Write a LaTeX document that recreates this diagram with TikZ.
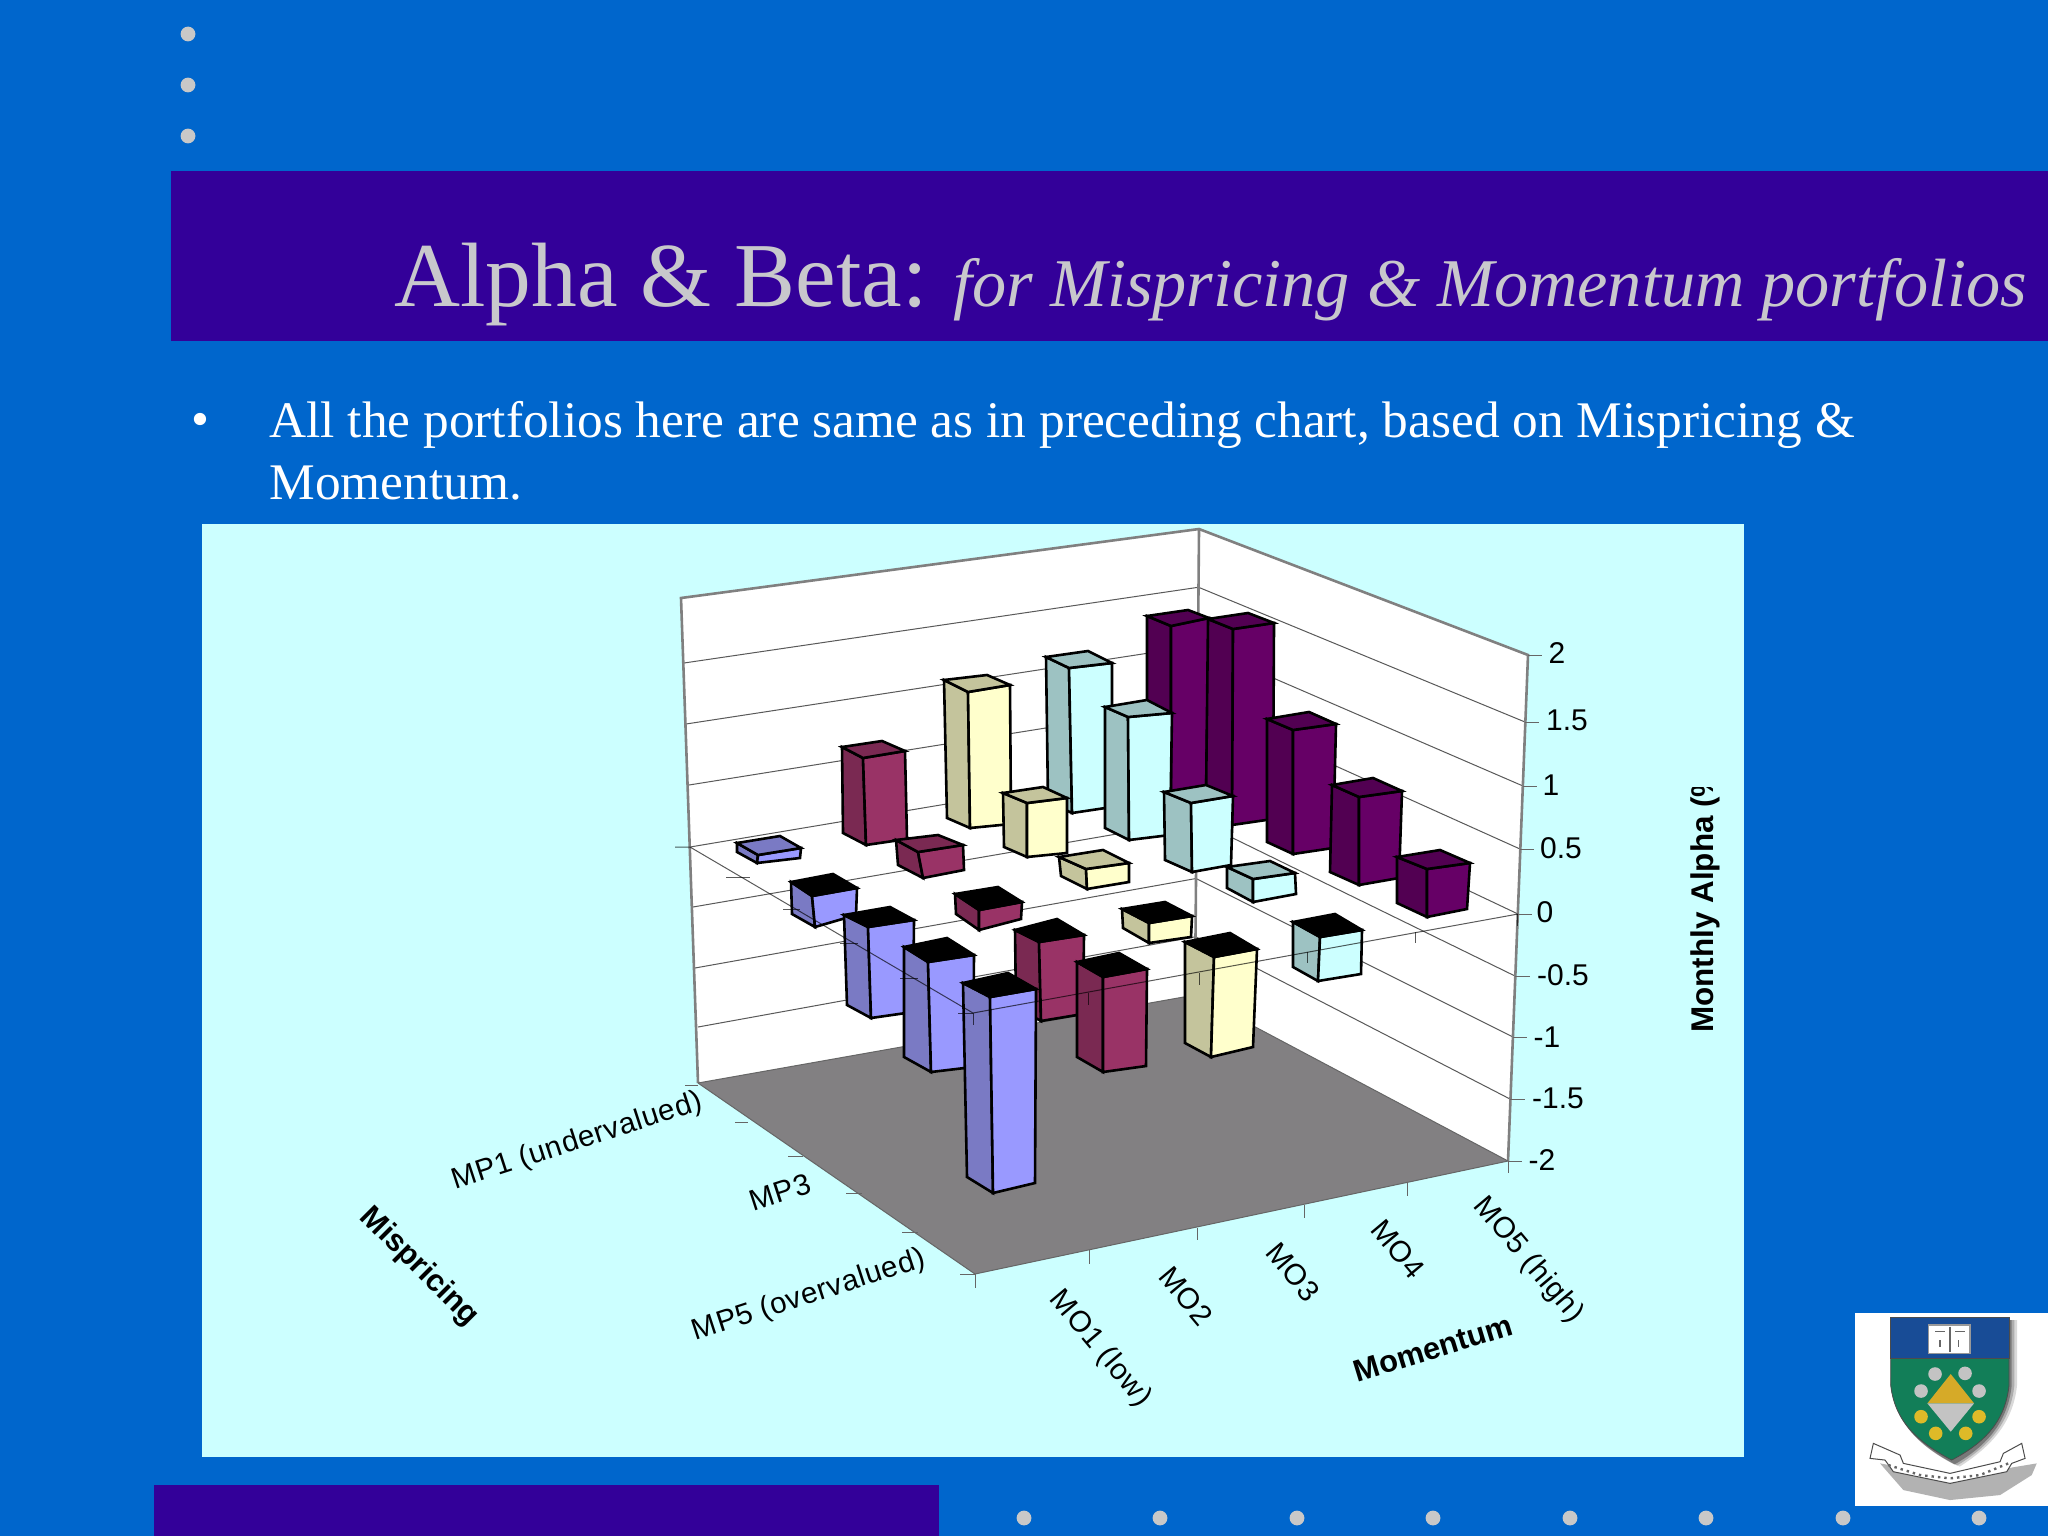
\documentclass[tikz,border=0pt]{standalone}
\usepackage{fontspec}
\setmainfont{Liberation Serif}
\newfontfamily\arialf{Liberation Sans}
\newfontfamily\arialsp[LetterSpace=2.2]{Liberation Sans}
\definecolor{slidebg}{HTML}{0066CC}
\definecolor{bandc}{HTML}{330099}
\definecolor{titlec}{HTML}{C8C8CC}
\definecolor{chartbg}{HTML}{CCFFFF}
\definecolor{floorc}{HTML}{828082}
\definecolor{wallline}{HTML}{808080}
\definecolor{dotc}{HTML}{C8C8C8}
\definecolor{blueF}{HTML}{9999FF}\definecolor{blueS}{HTML}{7A7AC4}
\definecolor{marF}{HTML}{993366}\definecolor{marS}{HTML}{7A2952}
\definecolor{creF}{HTML}{FFFFCC}\definecolor{creS}{HTML}{C4C49C}
\definecolor{cyaF}{HTML}{CCFFFF}\definecolor{cyaS}{HTML}{9DC2C2}
\definecolor{purF}{HTML}{660066}\definecolor{purS}{HTML}{520052}
\definecolor{shgreen}{HTML}{127E58}
\definecolor{shblue}{HTML}{184C96}
\definecolor{shgold}{HTML}{D6AA28}
\definecolor{shgray}{HTML}{C3C3C3}
\definecolor{shyel}{HTML}{DEBA28}
\tikzset{
  barline/.style={draw=black,line width=1.3pt,line join=miter},
  frame3d/.style={draw=wallline,line width=1.3pt},
  grid3d/.style={draw=black!65,line width=.5pt},
  zeroline/.style={draw=black,opacity=.65,line width=.5pt},
  ticks/.style={draw=black!60,line width=.5pt},
  axnum/.style={font=\arialf\fontsize{15}{15}\selectfont,text=black,inner sep=0pt},
  axcat/.style={font=\arialsp\fontsize{14.8}{14.8}\selectfont,text=black,inner sep=0pt},
  axtitle/.style={font=\arialf\bfseries\fontsize{15.4}{15.4}\selectfont,text=black,inner sep=0pt},
  slidedot/.style={fill=dotc,draw=none},
}
\newcommand{\cbar}[7]{\def\Lt{#1}\def\Bt{#2}\def\Rt{#3}\def\Ft{#4}\def\Lb{#5}\def\Fb{#6}\def\Rb{#7}\cbarB}
\newcommand{\cbarB}[3]{%
  \path[barline,fill=#2] (\Lt)--(\Ft)--(\Fb)--(\Lb)--cycle;
  \path[barline,fill=#1] (\Ft)--(\Rt)--(\Rb)--(\Fb)--cycle;
  \path[barline,fill=#3] (\Lt)--(\Bt)--(\Rt)--(\Ft)--cycle;
}
\begin{document}
\begin{tikzpicture}[x=.5pt,y=-.5pt]
\useasboundingbox (0,0) rectangle (2048,1536);
\fill[slidebg] (0,0) rectangle (2048,1536);
% bands
\fill[bandc] (171,171) rectangle (2048,341);
\fill[bandc] (154,1485) rectangle (939,1536);
% dots
\foreach \y in {34,85,136} \fill[slidedot] (188,\y) circle[radius=3.7pt];
\foreach \x in {1024,1160,1297,1433,1570,1706,1843,1979} \fill[slidedot] (\x,1518) circle[radius=3.7pt];
% title and text
\node[anchor=base west,inner sep=0pt,text=titlec,font=\fontsize{45.7}{45.7}\selectfont] (t1) at (394,306) {Alpha \& Beta:};
\node[anchor=base west,inner sep=0pt,text=titlec,font=\itshape\fontsize{34.15}{34.15}\selectfont] (t2) at (953,306) {for Mispricing \& Momentum portfolios};
\node[anchor=base,inner sep=0pt,text=white,font=\fontsize{25.67}{25.67}\selectfont] (bul) at (200,436) {•};
\node[anchor=base west,inner sep=0pt,text=white,font=\fontsize{25.67}{25.67}\selectfont] (l1) at (269,437) {All the portfolios here are same as in preceding chart, based on Mispricing \&};
\node[anchor=base west,inner sep=0pt,text=white,font=\fontsize{25.67}{25.67}\selectfont] (l2) at (269,499) {Momentum.};
% chart area
\fill[chartbg] (202,524) rectangle (1744,1457);
% walls
\fill[white] (681,598)--(1199,529)--(1528,655)--(1508,1161)--(1195,995)--(698,1083)--cycle;
\fill[floorc] (698,1083)--(1195,995)--(1508,1161)--(975,1274)--cycle;
% grids
\foreach \i/\yl/\xl/\xr/\yr in {1/663/684/1525/722,2/724/686/1523/786,3/785/689/1520/849,4/847/690/1518/914,5/907/693/1515/976,6/968/695/1513/1037,7/1027/698/1510/1099}{
  \pgfmathsetmacro\by{529+58.25*\i}
  \pgfmathsetmacro\bx{1199-.5*\i}
  \draw[grid3d] (\xl,\yl)--(\bx,\by)--(\xr,\yr);
}
\draw[frame3d] (698,1083)--(681,598)--(1199,529)--(1528,655)--(1508,1161);
\draw[frame3d] (1199,529)--(1195,995);
\draw[ticks] (698,1083)--(1195,995)--(1508,1161);
% bars purple
\cbar{1147,616}{1188,610}{1209,618}{1171,626}{1147,790}{1171,805}{1206,795}{purF}{purS}{purS}
\cbar{1208,619}{1248,613}{1274,623}{1233,629}{1206,800}{1232,825}{1273,819}{purF}{purS}{purS}
\cbar{1267,719}{1309,712}{1336,724}{1293,730}{1267,842}{1293,854}{1333,848}{purF}{purS}{purS}
\cbar{1332,785}{1373,778}{1402,791}{1359,797}{1330,872}{1359,885}{1399,878}{purF}{purS}{purS}
\cbar{1397,857}{1440,850}{1470,863}{1427,869}{1397,903}{1427,917}{1467,909}{purF}{purS}{purS}
% bars cyan
\cbar{1046,657}{1088,651}{1112,663}{1069,668}{1048,802}{1072,813}{1112,807}{cyaF}{cyaS}{cyaS}
\cbar{1105,707}{1147,700}{1172,713}{1128,717}{1105,828}{1129,840}{1170,835}{cyaF}{cyaS}{cyaS}
\cbar{1164,792}{1206,785}{1233,796}{1191,803}{1165,860}{1192,872}{1231,865}{cyaF}{cyaS}{cyaS}
\cbar{1227,867}{1270,861}{1295,873}{1253,879}{1227,888}{1253,902}{1296,894}{cyaF}{cyaS}{cyaS}
\cbar{1293,922}{1335,914}{1362,930}{1320,937}{1293,967}{1318,981}{1361,974}{cyaF}{cyaS}{black}
% bars cream
\cbar{944,680}{987,675}{1010,685}{968,692}{947,818}{970,828}{1011,824}{creF}{creS}{creS}
\cbar{1003,793}{1043,787}{1067,798}{1027,803}{1004,847}{1027,857}{1067,853}{creF}{creS}{creS}
\cbar{1059,857}{1103,850}{1129,863}{1086,869}{1061,876}{1087,889}{1129,882}{creF}{creS}{creS}
\cbar{1122,909}{1165,902}{1192,916}{1149,923}{1123,928}{1149,943}{1191,937}{creF}{creS}{black}
\cbar{1185,942}{1230,933}{1257,949}{1214,957}{1185,1043}{1211,1057}{1253,1047}{creF}{creS}{black}
% bars maroon
\cbar{842,747}{882,741}{905,751}{863,758}{843,833}{866,845}{907,839}{marF}{marS}{marS}
\cbar{896,840}{938,835}{963,845}{918,852}{898,865}{923,878}{964,870}{marF}{marS}{marS}
\cbar{955,894}{998,887}{1022,902}{979,910}{956,914}{979,930}{1021,919}{marF}{marS}{black}
\cbar{1015,930}{1057,919}{1084,935}{1039,942}{1016,1007}{1041,1021}{1083,1014}{marF}{marS}{black}
\cbar{1077,962}{1119,953}{1147,969}{1103,977}{1077,1057}{1103,1072}{1146,1066}{marF}{marS}{black}
% bars blue
\cbar{737,843}{780,836}{801,848}{758,855}{737,852}{757,863}{800,858}{blueF}{blueS}{blueS}
\cbar{791,882}{833,874}{857,888}{812,896}{792,914}{815,927}{856,915}{blueF}{blueS}{black}
\cbar{844,915}{890,907}{914,920}{868,927}{847,1005}{871,1018}{913,1012}{blueF}{blueS}{black}
\cbar{904,947}{947,938}{974,955}{928,962}{904,1057}{931,1072}{973,1067}{blueF}{blueS}{black}
\cbar{963,983}{1008,973}{1036,989}{990,997}{967,1177}{993,1193}{1035,1183}{blueF}{blueS}{black}
% zero plane and its ticks
\draw[zeroline] (675,847)--(690,847)--(973,1013)--(1518,914);
\draw[zeroline] (726,877)--(750,877) (783,909)--(800,909) (840,943)--(858,943) (900,978)--(918,978) (958,1013)--(973,1013);
\draw[zeroline] (973,1013)--(973,1025) (1088,993)--(1088,1005) (1199,973)--(1199,985) (1307,952)--(1307,963) (1415,932)--(1415,943) (1517,914)--(1517,926);
% floor edges and ticks
\draw[ticks] (698,1083)--(975,1274)--(1508,1161);
\draw[ticks] (685,1085)--(698,1085) (735,1122)--(748,1122) (788,1156)--(803,1156) (846,1193)--(862,1193) (902,1232)--(918,1232) (960,1274)--(975,1274);
\draw[ticks] (975,1274)--(975,1288) (1089,1250)--(1089,1264) (1197,1228)--(1197,1240) (1304,1205)--(1304,1218) (1407,1183)--(1407,1196) (1508,1161)--(1508,1173);
% right ticks
\draw[ticks] (1528,655)--(1542,655) (1525,722)--(1539,722) (1523,786)--(1537,786) (1520,849)--(1534,849) (1518,914)--(1532,914) (1515,976)--(1530,976) (1513,1037)--(1527,1037) (1510,1099)--(1525,1099) (1508,1161)--(1522,1161);
% axis numbers
\node[axnum] (n20) at (1557,653) {2};
\node[axnum] (n15) at (1567,720) {1.5};
\node[axnum] (n10) at (1551,785) {1};
\node[axnum] (n05) at (1561,848) {0.5};
\node[axnum] (n00) at (1545,912) {0};
\node[axnum] (nm05) at (1563,975) {-0.5};
\node[axnum] (nm10) at (1547,1037) {-1};
\node[axnum] (nm15) at (1558,1098) {-1.5};
\node[axnum] (nm20) at (1542,1160) {-2};
% category labels
\node[axcat,rotate=18] (mp1) at (577,1142) {MP1 (undervalued)};
\node[axcat,rotate=18] (mp3) at (780,1192) {MP3};
\node[axcat,rotate=18] (mp5) at (809,1296) {MP5 (overvalued)};
\node[axcat,rotate=-50] (mo1) at (1100,1349) {MO1 (low)};
\node[axcat,rotate=-50] (mo2) at (1186,1296) {MO2};
\node[axcat,rotate=-50] (mo3) at (1293,1272) {MO3};
\node[axcat,rotate=-50] (mo4) at (1398,1249) {MO4};
\node[axcat,rotate=-50] (mo5) at (1528,1260) {MO5 (high)};
\node[axtitle,rotate=-45] (misp) at (419,1267) {Mispricing};
\node[axtitle,rotate=17] (mom) at (1433,1348) {Momentum};
\begin{scope}
\clip (1660,787) rectangle (1760,1050);
\node[axtitle,font=\arialf\bfseries\fontsize{15.7}{15.7}\selectfont,rotate=90,anchor=base west] (alpha) at (1713,1033) {Monthly Alpha (\%)};
\end{scope}
% logo
\begin{scope}[shift={(1840,1300)},x=.1667pt,y=-.1667pt]
\fill[white] (46,40) rectangle (624,618);
\foreach \d/\o in {24/.15,16/.2,8/.3}{
  \fill[black,opacity=\o] (152+\d,60)--(507+\d,60)--(507+\d,255) .. controls (495+\d,375) and (420+\d,445) .. (335+\d,490+.4*\d) .. controls (250,445) and (165,375) .. (152,255)--cycle;
}
\fill[black!30] (120,490)--(200,505)--(330,535)--(470,510)--(590,490)--(575,525)--(480,585)--(330,600)--(190,570)--cycle;
\path[draw=black!70,line width=.5pt,fill=white] (100,430)--(180,465)--(190,490)--(330,520)--(480,485)--(490,460)--(545,430)--(555,475)--(515,490)--(500,515)--(330,550)--(160,515)--(135,480)--(90,475)--cycle;
\path[draw=black!60,line width=1.2pt,dotted] (145,495)--(240,525)--(330,535)--(420,525)--(505,490);
\path[fill=shgreen,draw=black!70,line width=.4pt] (152,175)--(507,175)--(507,255) .. controls (495,375) and (420,435) .. (335,480) .. controls (250,435) and (165,375) .. (152,255)--cycle;
\path[fill=shblue,draw=black!70,line width=.4pt] (152,52) rectangle (507,175);
\path[fill=white,draw=black!40,line width=.6pt] (265,75) rectangle (390,160);
\draw[black!60,line width=.6pt] (330,80)--(330,155) (285,95)--(315,95) (345,95)--(375,95) (300,120)--(300,140) (355,120)--(355,140);
\fill[shgold] (332,222)--(402,310)--(262,310)--cycle;
\fill[shgray] (262,310)--(402,310)--(332,395)--cycle;
\foreach \a/\b in {285/222,375/220,243/273,417/273} \fill[shgray] (\a,\b) circle[radius=3.4pt];
\foreach \a/\b in {243/350,417/350,287/400,377/400} \fill[shyel] (\a,\b) circle[radius=3.4pt];
\end{scope}
\end{tikzpicture}
\end{document}
